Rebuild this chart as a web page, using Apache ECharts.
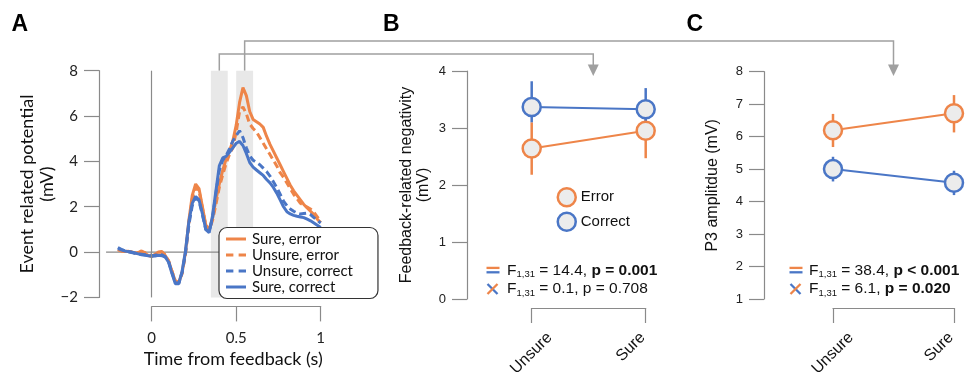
<!DOCTYPE html>
<html>
<head>
<meta charset="utf-8">
<script src="https://cdn.jsdelivr.net/npm/echarts@6/dist/echarts.min.js"></script>
<style>
  html, body { margin: 0; padding: 0; background: #fff; }
  #chart { width: 966px; height: 375px; }
</style>
</head>
<body>
<div id="chart"></div>
<script>
const ORANGE = '#EE8549';
const BLUE = '#4A76C6';
const AXIS = '#8a8a8a';
const LINK = '#a0a0a0';
const FILL = '#ececec';
const FONT_A = 'Lato, "Open Sans", sans-serif';
const FONT_BC = '"Liberation Sans", Arial, sans-serif';

// Panel A: ERP waveforms (time in s, amplitude in mV)
const times = [
  -0.20, -0.18, -0.16, -0.14, -0.12, -0.10, -0.08, -0.06, -0.04, -0.02,
   0.00,  0.02,  0.04,  0.06,  0.08,  0.10,  0.12,  0.14,  0.16,  0.18,
   0.20,  0.22,  0.24,  0.26,  0.28,  0.30,  0.32,  0.34,  0.36,  0.38,
   0.40,  0.42,  0.44,  0.46,  0.48,  0.50,  0.52,  0.54,  0.56,  0.58,
   0.60,  0.62,  0.64,  0.66,  0.68,  0.70,  0.72,  0.74,  0.76,  0.78,
   0.80,  0.82,  0.84,  0.86,  0.88,  0.90,  0.92,  0.94,  0.96,  0.98, 1.00
];
const sureError = [
   0.10,  0.05,  0.02,  0.04,  0.00, -0.05, -0.02,  0.05, -0.05, -0.15,
  -0.20, -0.10,  0.00,  0.02, -0.15, -0.40, -0.85, -1.30, -1.35, -0.90,
   0.00,  1.40,  2.50,  3.00,  2.80,  2.00,  1.20,  1.00,  1.50,  2.30,
   3.00,  3.60,  4.10,  4.45,  4.90,  5.60,  6.60,  7.25,  6.90,  6.20,
   5.85,  5.75,  5.65,  5.50,  5.10,  4.75,  4.45,  4.15,  3.85,  3.55,
   3.25,  2.95,  2.70,  2.50,  2.30,  2.10,  1.95,  1.80,  1.65,  1.45, 1.30
];
const unsureError = [
   0.12,  0.06,  0.03,  0.02,  0.01, -0.03, -0.05,  0.02, -0.02, -0.10,
  -0.18, -0.12, -0.03,  0.00, -0.12, -0.38, -0.85, -1.28, -1.32, -0.95,
  -0.10,  1.25,  2.35,  2.85,  2.70,  1.95,  1.15,  0.95,  1.40,  2.10,
   2.85,  3.40,  3.90,  4.30,  4.60,  5.30,  6.20,  6.40,  6.10,  5.65,
   5.45,  5.30,  5.05,  4.80,  4.55,  4.30,  4.05,  3.80,  3.50,  3.30,
   3.05,  2.80,  2.55,  2.35,  2.15,  2.05,  1.98,  1.90,  1.75,  1.55, 1.33
];
const unsureCorrect = [
   0.15,  0.10,  0.06,  0.02, -0.02, -0.05, -0.08, -0.10, -0.12, -0.12,
  -0.15, -0.14, -0.10, -0.12, -0.20, -0.42, -0.90, -1.35, -1.38, -0.90,
  -0.05,  1.20,  2.05,  2.40,  2.25,  1.65,  1.00,  0.90,  1.50,  2.60,
   3.60,  4.05,  4.25,  4.55,  4.90,  5.15,  5.35,  5.05,  4.60,  4.25,
   4.05,  3.95,  3.85,  3.70,  3.55,  3.35,  3.10,  2.85,  2.55,  2.25,
   2.05,  1.90,  1.80,  1.72,  1.68,  1.70,  1.72,  1.65,  1.52,  1.40, 1.28
];
const sureCorrect = [
   0.20,  0.12,  0.05,  0.02,  0.00, -0.04, -0.08, -0.12, -0.14, -0.16,
  -0.18, -0.17, -0.14, -0.16, -0.22, -0.45, -0.95, -1.40, -1.40, -0.85,
   0.05,  1.35,  2.15,  2.45,  2.30,  1.70,  1.00,  0.85,  1.60,  2.70,
   3.80,  4.15,  4.22,  4.40,  4.60,  4.80,  4.88,  4.70,  4.35,  3.95,
   3.75,  3.62,  3.50,  3.38,  3.20,  3.05,  2.85,  2.60,  2.30,  2.00,
   1.78,  1.68,  1.62,  1.58,  1.55,  1.52,  1.45,  1.38,  1.28,  1.18, 1.08
];
const windows = [[0.35, 0.45], [0.50, 0.60]];
const zeroLine = [-0.27, 1.0];
const timeView = [-0.3118, 1.0];   // visible time span of panel A, y axis sits at the left end

// Panels B and C: condition means with error bars
const conditions = ['Unsure', 'Sure'];
const frnError = [2.64, 2.95];
const frnErrorLow = [2.18, 2.47];
const frnErrorHigh = [3.10, 3.43];
const frnCorrect = [3.37, 3.33];
const frnCorrectLow = [3.10, 2.96];
const frnCorrectHigh = [3.82, 3.70];
const p3Error = [6.20, 6.72];
const p3ErrorLow = [5.68, 6.13];
const p3ErrorHigh = [6.70, 7.28];
const p3Correct = [5.00, 4.58];
const p3CorrectLow = [4.62, 4.20];
const p3CorrectHigh = [5.38, 4.95];

const statsB = [
  { f: ' = 14.4, ', p: 'p = 0.001', bold: true },
  { f: ' = 0.1, ', p: 'p = 0.708', bold: false }
];
const statsC = [
  { f: ' = 38.4, ', p: 'p < 0.001', bold: true },
  { f: ' = 6.1, ', p: 'p = 0.020', bold: true }
];

const chart = echarts.init(document.getElementById('chart'));

const pairs = arr => times.map((t, i) => [t, arr[i]]);

function erpSeries(name, arr, color, dashed) {
  return {
    name, type: 'line', xAxisIndex: 0, yAxisIndex: 0,
    data: pairs(arr), symbol: 'none', z: 2,
    lineStyle: { color, width: 3, type: dashed ? [7, 4] : 'solid' },
    itemStyle: { color },
    silent: true
  };
}

function errorBars(idx, low, high, color) {
  return {
    type: 'custom', xAxisIndex: idx, yAxisIndex: idx, z: 2, silent: true,
    data: low.map((l, i) => [i, l, high[i]]),
    renderItem: (params, api) => {
      const a = api.coord([api.value(0), api.value(1)]);
      const b = api.coord([api.value(0), api.value(2)]);
      return {
        type: 'line',
        shape: { x1: a[0], y1: a[1], x2: b[0], y2: b[1] },
        style: { stroke: color, lineWidth: 2.5 }
      };
    }
  };
}

function meanSeries(idx, name, arr, color) {
  return {
    name, type: 'line', xAxisIndex: idx, yAxisIndex: idx, data: arr, z: 3,
    symbol: 'circle', symbolSize: 18, clip: false, silent: true,
    lineStyle: { color, width: 2 },
    itemStyle: { color: FILL, borderColor: color, borderWidth: 2.5 }
  };
}

const tickLabel = v => (v < 0 ? '\u2212' + Math.abs(v) : String(v));

function yAxisCfg(idx, min, max, interval, offset, name, nameGap, lineHeight, font, size) {
  return {
    gridIndex: idx, type: 'value', min, max, interval, offset, position: 'left',
    axisLine: { show: true, onZero: false, lineStyle: { color: AXIS, width: 1.2 } },
    axisTick: { show: true, length: 15, lineStyle: { color: AXIS, width: 1.2 } },
    axisLabel: { margin: 21, color: '#222', fontFamily: font, fontSize: size, formatter: tickLabel },
    splitLine: { show: false },
    name, nameLocation: 'middle', nameGap, nameRotate: 90,
    nameTextStyle: { color: '#111', fontFamily: font, fontSize: idx === 0 ? 18 : 16, lineHeight }
  };
}

function catAxis(idx) {
  return {
    gridIndex: idx, type: 'category', data: conditions, boundaryGap: false,
    position: 'bottom', offset: 9,
    axisLine: { show: true, onZero: false, lineStyle: { color: AXIS, width: 1.2 } },
    axisTick: { show: true, length: 15, alignWithLabel: true, lineStyle: { color: AXIS, width: 1.2 } },
    axisLabel: { show: false },
    splitLine: { show: false }
  };
}

// legend icons: short solid bar, or two dashes
const SOLID_ICON = 'path://M0,0H20V3H0Z';
const DASH_ICON = 'path://M0,0H7V3H0ZM12,0H19V3H12Z';

const option = {
  animation: false,
  backgroundColor: '#fff',
  grid: [
    { left: 99, top: 70.7, width: 221.7, height: 226.7, outerBoundsMode: 'none' },
    { left: 531.7, top: 71, width: 114, height: 228, outerBoundsMode: 'none' },
    { left: 833, top: 71.7, width: 121, height: 227.3, outerBoundsMode: 'none' },
    // time scale bracket of panel A (0 to 1 s only)
    { left: 151.7, top: 70.7, width: 169, height: 226.7, outerBoundsMode: 'none' }
  ],
  xAxis: [
    { gridIndex: 0, type: 'value', min: timeView[0], max: timeView[1], show: false },
    catAxis(1),
    catAxis(2),
    {
      gridIndex: 3, type: 'value', min: 0, max: 1, interval: 0.5,
      position: 'bottom', offset: 9,
      axisLine: { show: true, onZero: false, lineStyle: { color: AXIS, width: 1.2 } },
      axisTick: { show: true, length: 15, lineStyle: { color: AXIS, width: 1.2 } },
      axisLabel: { margin: 24, color: '#222', fontFamily: FONT_A, fontSize: 15 },
      splitLine: { show: false },
      name: 'Time from feedback (s)', nameLocation: 'middle', nameGap: 41,
      nameTextStyle: { color: '#111', fontFamily: FONT_A, fontSize: 18, padding: [0, 6, 0, 0] }
    }
  ],
  yAxis: [
    yAxisCfg(0, -2, 8, 2, 0, 'Event related potential\n(mV)', 40, 20, FONT_A, 15),
    yAxisCfg(1, 0, 4, 1, 64.7, 'Feedback-related negativity\n(mV)', 35, 17, FONT_BC, 13),
    yAxisCfg(2, 1, 8, 1, 69, 'P3 amplitdue (mV)', 42, 18, FONT_BC, 13),
    { gridIndex: 3, type: 'value', min: -2, max: 8, show: false }
  ],
  legend: [
    {
      data: [
        { name: 'Sure, error', icon: SOLID_ICON },
        { name: 'Unsure, error', icon: DASH_ICON },
        { name: 'Unsure, correct', icon: DASH_ICON },
        { name: 'Sure, correct', icon: SOLID_ICON }
      ],
      orient: 'vertical', left: 219, top: 227.5, selectedMode: false,
      itemWidth: 20, itemHeight: 3.2, itemGap: 1,
      padding: [4, 25, 4, 7],
      backgroundColor: '#fff', borderColor: '#333', borderWidth: 1.2, borderRadius: 8,
      textStyle: { fontFamily: FONT_A, fontSize: 15, lineHeight: 15, color: '#111', padding: [0, 0, 0, 1] },
      z: 10
    },
    {
      data: [
        { name: 'Error', icon: 'circle', itemStyle: { color: FILL, borderColor: ORANGE, borderWidth: 2.5 } },
        { name: 'Correct', icon: 'circle', itemStyle: { color: FILL, borderColor: BLUE, borderWidth: 2.5 } }
      ],
      orient: 'vertical', left: 556.5, top: 187, selectedMode: false,
      itemWidth: 18, itemHeight: 18, itemGap: 4, padding: 0,
      textStyle: { fontFamily: FONT_BC, fontSize: 15, color: '#111' }
    }
  ],
  series: [
    {
      name: 'zero', type: 'line', xAxisIndex: 0, yAxisIndex: 0, z: 1, silent: true,
      data: zeroLine.map(t => [t, 0]), symbol: 'none',
      lineStyle: { color: AXIS, width: 1.2 },
      markArea: {
        silent: true,
        itemStyle: { color: '#e8e8e8' },
        data: windows.map(w => [{ xAxis: w[0] }, { xAxis: w[1] }])
      },
      markLine: {
        silent: true, symbol: 'none', label: { show: false },
        lineStyle: { color: AXIS, width: 1.2, type: 'solid' },
        data: [{ xAxis: 0 }]
      }
    },
    erpSeries('Sure, error', sureError, ORANGE, false),
    erpSeries('Unsure, error', unsureError, ORANGE, true),
    erpSeries('Unsure, correct', unsureCorrect, BLUE, true),
    erpSeries('Sure, correct', sureCorrect, BLUE, false),

    errorBars(1, frnErrorLow, frnErrorHigh, ORANGE),
    meanSeries(1, 'Error', frnError, ORANGE),
    errorBars(1, frnCorrectLow, frnCorrectHigh, BLUE),
    meanSeries(1, 'Correct', frnCorrect, BLUE),

    errorBars(2, p3ErrorLow, p3ErrorHigh, ORANGE),
    meanSeries(2, 'Error', p3Error, ORANGE),
    errorBars(2, p3CorrectLow, p3CorrectHigh, BLUE),
    meanSeries(2, 'Correct', p3Correct, BLUE)
  ]
};

chart.setOption(option);

// annotations placed from the axes' own pixel positions
const px = (g, p) => chart.convertToPixel({ gridIndex: g }, p);
const graphics = [];

function panelLetter(text, x) {
  graphics.push({
    type: 'text', x, y: 25,
    style: { text, fontFamily: FONT_BC, fontWeight: 'bold', fontSize: 23, fill: '#000', verticalAlign: 'middle' }
  });
}
panelLetter('A', 11.5);
panelLetter('B', 383);
panelLetter('C', 686.5);

function connector(fromX, fromY, midY, toX) {
  graphics.push({
    type: 'polyline', silent: true,
    shape: { points: [[fromX, fromY], [fromX, midY], [toX, midY], [toX, 66]] },
    style: { stroke: LINK, lineWidth: 1.5, fill: null }
  });
  graphics.push({
    type: 'polygon', silent: true,
    shape: { points: [[toX - 5.5, 64.5], [toX + 5.5, 64.5], [toX, 76]] },
    style: { fill: LINK }
  });
}
const topA = px(0, [0, 8])[1];
const w1 = px(0, [(windows[0][0] + windows[0][1]) / 2, 8])[0];
const w2 = px(0, [(windows[1][0] + windows[1][1]) / 2, 8])[0];
const bU = px(1, [0, 4])[0], bS = px(1, [1, 4])[0];
const cU = px(2, [0, 8])[0], cS = px(2, [1, 8])[0];
connector(w1, topA, 54, bU + 0.54 * (bS - bU));
connector(w2, topA, 41, cU + 0.5 * (cS - cU));

function catLabels(uX, sX) {
  [[conditions[0], uX + 18], [conditions[1], sX - 3]].forEach(([text, x]) => {
    graphics.push({
      type: 'text', x, y: 335, rotation: Math.PI / 4,
      style: { text, fontFamily: FONT_BC, fontSize: 16, fill: '#111', align: 'right', verticalAlign: 'middle' }
    });
  });
}
catLabels(bU, bS);
catLabels(cU, cS);

function stats(symX, textX, rows) {
  const ys = [270.5, 289];
  // "=" : orange line over blue line (main effect), "x" : interaction
  graphics.push({ type: 'line', shape: { x1: symX, y1: ys[0] - 2.6, x2: symX + 13, y2: ys[0] - 2.6 }, style: { stroke: ORANGE, lineWidth: 2.3 } });
  graphics.push({ type: 'line', shape: { x1: symX, y1: ys[0] + 1.8, x2: symX + 13, y2: ys[0] + 1.8 }, style: { stroke: BLUE, lineWidth: 2.3 } });
  graphics.push({ type: 'line', shape: { x1: symX + 1, y1: ys[1] - 5, x2: symX + 11, y2: ys[1] + 5 }, style: { stroke: BLUE, lineWidth: 2.3 } });
  graphics.push({ type: 'line', shape: { x1: symX + 1, y1: ys[1] + 5, x2: symX + 11, y2: ys[1] - 5 }, style: { stroke: ORANGE, lineWidth: 2.3 } });
  rows.forEach((r, i) => {
    graphics.push({
      type: 'text', x: textX, y: ys[i],
      style: {
        text: '{f|F}{s|1,31}{t|' + r.f + '}{' + (r.bold ? 'b' : 't') + '|' + r.p + '}',
        verticalAlign: 'middle',
        rich: {
          f: { fontFamily: FONT_BC, fontSize: 15.5, lineHeight: 18, fill: '#111', verticalAlign: 'middle' },
          s: { fontFamily: FONT_BC, fontSize: 9.5, lineHeight: 9, fill: '#111', verticalAlign: 'bottom' },
          t: { fontFamily: FONT_BC, fontSize: 15.5, lineHeight: 18, fill: '#111', verticalAlign: 'middle' },
          b: { fontFamily: FONT_BC, fontSize: 15.5, lineHeight: 18, fontWeight: 'bold', fill: '#111', verticalAlign: 'middle' }
        }
      }
    });
  });
}
stats(486.5, 507, statsB);
stats(789.5, 809, statsC);

chart.setOption({ graphic: graphics });
window.addEventListener('resize', () => chart.resize());
</script>
</body>
</html>
